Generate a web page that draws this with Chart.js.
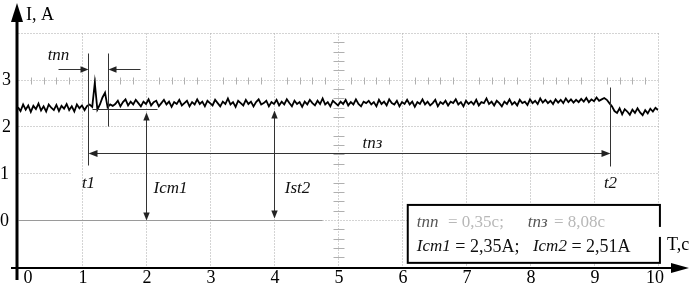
<!DOCTYPE html>
<html><head><meta charset="utf-8">
<script src="https://cdn.jsdelivr.net/npm/chart.js@4.4.0/dist/chart.umd.min.js"></script>
<style>html,body{margin:0;padding:0;background:#fff;overflow:hidden}</style>
</head><body>
<canvas id="c" width="691" height="287" style="display:block;width:691px;height:287px"></canvas>
<script>
// ---- data ----
const timeStep = 0.04; // s between samples
const currentBefore = [2.41,2.33,2.47,2.36,2.45,2.31,2.44,2.37,2.49,2.34,2.43,2.32,2.47,2.40,2.35,2.46,2.33,2.44,2.38,2.48,2.35,2.43,2.32,2.47,2.39,2.45,2.35,2.44,2.47,2.42];
const currentSpike = [2.93,2.36,2.47,2.62,2.72,2.41,2.47,2.44];
const currentSteady = [
 2.48,2.55,2.43,2.52,2.58,2.45,2.53,2.47,2.57,2.50,
 2.43,2.53,2.48,2.58,2.45,2.52,2.55,2.43,2.50,2.57,
 2.47,2.53,2.42,2.52,2.48,2.57,2.45,2.50,2.55,2.43,
 2.52,2.47,2.58,2.48,2.53,2.43,2.55,2.50,2.45,2.57,
 2.50,2.43,2.53,2.48,2.60,2.47,2.52,2.42,2.55,2.50,
 2.45,2.57,2.48,2.53,2.43,2.52,2.58,2.47,2.50,2.55,
 2.43,2.52,2.48,2.57,2.45,2.53,2.47,2.58,2.50,2.43,
 2.55,2.48,2.52,2.42,2.53,2.47,2.57,2.50,2.45,2.55,
 2.48,2.60,2.47,2.52,2.43,2.55,2.50,2.45,2.53,2.48,
 2.57,2.45,2.52,2.47,2.58,2.48,2.43,2.53,2.50,2.55,
 2.47,2.52,2.43,2.57,2.48,2.53,2.45,2.58,2.50,2.47,
 2.55,2.43,2.52,2.48,2.57,2.47,2.53,2.42,2.52,2.48,
 2.58,2.47,2.53,2.45,2.50,2.57,2.43,2.52,2.48,2.55,
 2.45,2.53,2.50,2.58,2.47,2.52,2.43,2.55,2.48,2.53,
 2.47,2.57,2.45,2.52,2.50,2.60,2.48,2.53,2.45,2.55,
 2.50,2.43,2.53,2.48,2.58,2.47,2.52,2.45,2.57,2.50,
 2.53,2.46,2.58,2.50,2.55,2.48,2.60,2.51,2.57,2.50,
 2.55,2.48,2.58,2.51,2.57,2.50,2.60,2.52,2.58,2.51,
 2.57,2.52,2.59,2.53,2.61,2.52,2.58,2.54,2.62,2.55];
const currentEnd = [2.58,2.61,2.57,2.50,2.43,2.33,2.29,2.39,2.26,2.37,2.32,2.25,2.36,2.29,2.39,2.30,2.24,2.35,2.28,2.38,2.32,2.40,2.35];
const currentValues = [...currentBefore, ...currentSpike, ...currentSteady, ...currentEnd];
const sampleTimes = currentValues.map((_, i) => +(i * timeStep).toFixed(2));

const xTickLabels = ['0','1','2','3','4','5','6','7','8','9','10'];
const yTickLabels = ['0','1','2','3'];
const axisTitleX = 'T,c';
const axisTitleY = 'I, A';
const markerT1 = 1.09, markerT2 = 9.25, markerPP = 1.41; // s
const summaryLine1 = [['tпп', true], [' = 0,35c;', false], ['tпз', true], [' = 8,08c', false]];
const summaryLine2 = [['Iст1', true], [' = 2,35A;   ', false], ['Iст2', true], [' = 2,51A', false]];

const SERIF = '"Liberation Serif", "DejaVu Serif", serif';

function arrowHead(ctx, x, y, dir, len = 8, half = 3.2) {
  ctx.beginPath();
  ctx.moveTo(x, y);
  if (dir === 'up') { ctx.lineTo(x - half, y + len); ctx.lineTo(x + half, y + len); }
  if (dir === 'down') { ctx.lineTo(x - half, y - len); ctx.lineTo(x + half, y - len); }
  if (dir === 'left') { ctx.lineTo(x + len, y - half); ctx.lineTo(x + len, y + half); }
  if (dir === 'right') { ctx.lineTo(x - len, y - half); ctx.lineTo(x - len, y + half); }
  ctx.closePath();
  ctx.fill();
}
function line(ctx, x1, y1, x2, y2) { ctx.beginPath(); ctx.moveTo(x1, y1); ctx.lineTo(x2, y2); ctx.stroke(); }

const scopeGrid = {
  id: 'scopeGrid',
  beforeDraw(chart) {
    const ctx = chart.ctx;
    ctx.save(); ctx.fillStyle = '#fff'; ctx.fillRect(0, 0, chart.width, chart.height); ctx.restore();
  },
  beforeDatasetsDraw(chart) {
    const { ctx, scales: { x, y } } = chart;
    const X = v => Math.round(x.getPixelForValue(v)) + 0.5;
    const Y = v => Math.round(y.getPixelForValue(v)) + 0.5;
    ctx.save();
    ctx.lineWidth = 1;
    ctx.strokeStyle = '#a8a8a8';
    ctx.setLineDash([1, 2]);
    for (let i = 1; i <= 10; i++) line(ctx, X(i), Y(4), X(i), Y(y.min));
    for (const v of [2, 3, 4]) line(ctx, X(0), Y(v), X(10), Y(v));
    line(ctx, X(0), Y(1), X(0.81), Y(1));
    line(ctx, X(1.44), Y(1), X(10), Y(1));
    line(ctx, X(4.75), Y(0), X(10), Y(0));
    ctx.setLineDash([]);
    ctx.strokeStyle = '#9a9a9a';
    line(ctx, X(0), Y(0), X(4.75), Y(0));
    ctx.strokeStyle = '#b0b0b0';
    for (let k = 1; k < 50; k++) {
      if (k % 5 === 0) continue;
      const px = X(k * 0.2);
      line(ctx, px, Y(3) - 3, px, Y(3) + 4);
    }
    for (let k = -5; k <= 20; k++) {
      if (k % 5 === 0) continue;
      const py = Y(k * 0.2);
      line(ctx, X(5) - 5, py, X(5) + 6, py);
    }
    ctx.restore();
  },
  afterDatasetsDraw(chart) {
    const { ctx, scales: { x, y } } = chart;
    const X = v => Math.round(x.getPixelForValue(v)) + 0.5;
    const Y = v => Math.round(y.getPixelForValue(v)) + 0.5;
    ctx.save();
    ctx.fillStyle = '#222';
    ctx.strokeStyle = '#333';
    ctx.lineWidth = 1;
    line(ctx, X(markerT1), Y(3.58), X(markerT1), Y(1.18));
    line(ctx, X(markerPP), Y(3.58), X(markerPP), Y(2.0));
    const yPP = Y(3.22);
    line(ctx, X(0.62), yPP, X(markerT1) - 6, yPP);
    arrowHead(ctx, X(markerT1), yPP, 'right');
    line(ctx, X(1.9), yPP, X(markerPP) + 6, yPP);
    arrowHead(ctx, X(markerPP), yPP, 'left');
    line(ctx, X(1.16), Y(2.38), X(2.17), Y(2.38));
    line(ctx, X(2), Y(2.31) + 6, X(2), Y(0) - 6);
    arrowHead(ctx, X(2), Y(2.31), 'up');
    arrowHead(ctx, X(2), Y(0), 'down');
    line(ctx, X(4), Y(2.35) + 6, X(4), Y(0.05) - 6);
    arrowHead(ctx, X(4), Y(2.35), 'up');
    arrowHead(ctx, X(4), Y(0.05), 'down');
    line(ctx, X(markerT2), Y(2.84), X(markerT2), Y(1.16));
    const yPZ = Y(1.43);
    line(ctx, X(markerT1) + 6, yPZ, X(markerT2) - 6, yPZ);
    arrowHead(ctx, X(markerT1), yPZ, 'left', 9, 3.5);
    arrowHead(ctx, X(markerT2), yPZ, 'right', 9, 3.5);

    ctx.fillStyle = '#111';
    ctx.textBaseline = 'middle';
    ctx.textAlign = 'center';
    ctx.font = 'italic 17px ' + SERIF;
    ctx.fillText('tпп', X(0.63), Y(3.53));
    ctx.fillText('tпз', X(5.53), Y(1.65));
    ctx.fillText('t1', X(markerT1), Y(0.79));
    ctx.fillText('t2', X(markerT2), Y(0.79));
    ctx.fillText('Iст1', X(2.37), Y(0.69));
    ctx.fillText('Ist2', X(4.36), Y(0.69));

    ctx.fillStyle = '#000'; ctx.strokeStyle = '#000';
    const x0 = x.getPixelForValue(0) - 1, yAxis = y.getPixelForValue(y.min);
    ctx.lineWidth = 3;
    line(ctx, x0, 280, x0, 16);
    ctx.beginPath(); ctx.moveTo(x0, 3); ctx.lineTo(x0 - 6, 22); ctx.lineTo(x0 + 6, 22); ctx.closePath(); ctx.fill();
    ctx.lineWidth = 2;
    line(ctx, 11, yAxis, 676, yAxis);
    ctx.beginPath(); ctx.moveTo(689, yAxis); ctx.lineTo(671, yAxis - 5); ctx.lineTo(671, yAxis + 5); ctx.closePath(); ctx.fill();

    ctx.font = '18px ' + SERIF;
    ctx.textAlign = 'center';
    xTickLabels.forEach((t, i) => {
      let off = 1; if (i === 0) off = 10; if (i === 10) off = -3;
      ctx.fillText(t, x.getPixelForValue(i) + off, yAxis + 10);
    });
    ctx.textAlign = 'right';
    yTickLabels.forEach((t, i) => {
      const off = i < 2 ? 9 : 11;
      ctx.fillText(t, off, y.getPixelForValue(i) + 1);
    });
    ctx.textAlign = 'left';
    ctx.fillText(axisTitleY, 26, 15);

    const bx1 = x.getPixelForValue(6.09), bx2 = x.getPixelForValue(10.03);
    const by1 = y.getPixelForValue(0.32), by2 = y.getPixelForValue(-0.92);
    ctx.fillStyle = '#fff';
    ctx.fillRect(bx1, by1, bx2 - bx1, by2 - by1);
    ctx.lineWidth = 2; ctx.strokeStyle = '#000';
    ctx.strokeRect(bx1, by1, bx2 - bx1, by2 - by1);
    const l1x = [bx1 + 9, bx1 + 36, bx1 + 120, bx1 + 142];
    summaryLine1.forEach(([txt, isVar], i) => {
      ctx.font = (isVar ? 'italic 17px ' : '17px ') + SERIF;
      ctx.fillStyle = isVar ? '#555' : '#b8b8b8';
      ctx.fillText(txt, l1x[i], by1 + 18);
    });
    ctx.fillStyle = '#111';
    let cx = bx1 + 9;
    summaryLine2.forEach(([txt, it]) => {
      ctx.font = (it ? 'italic 17px ' : '18px ') + SERIF;
      ctx.fillText(txt, cx, by1 + 42);
      cx += ctx.measureText(txt).width;
    });
    ctx.fillStyle = '#fff';
    ctx.fillRect(bx2 - 2, by1 + 22, 5, 10);
    ctx.fillStyle = '#000';
    ctx.font = '18px ' + SERIF;
    ctx.fillText(axisTitleX, 667, 245);
    ctx.restore();
  }
};

new Chart(document.getElementById('c'), {
  type: 'line',
  data: {
    labels: sampleTimes,
    datasets: [{
      data: currentValues.map((v, i) => ({ x: sampleTimes[i], y: v })),
      borderColor: '#000', borderWidth: 1.8, pointRadius: 0, tension: 0, fill: false
    }]
  },
  options: {
    responsive: false, animation: false, events: [],
    layout: { padding: { left: 18, right: 33, top: 33, bottom: 19 } },
    plugins: { legend: { display: false }, tooltip: { enabled: false } },
    scales: {
      x: { type: 'linear', min: 0, max: 10, display: false },
      y: { type: 'linear', min: -1.03, max: 4, display: false }
    }
  },
  plugins: [scopeGrid]
});
</script>
</body></html>
